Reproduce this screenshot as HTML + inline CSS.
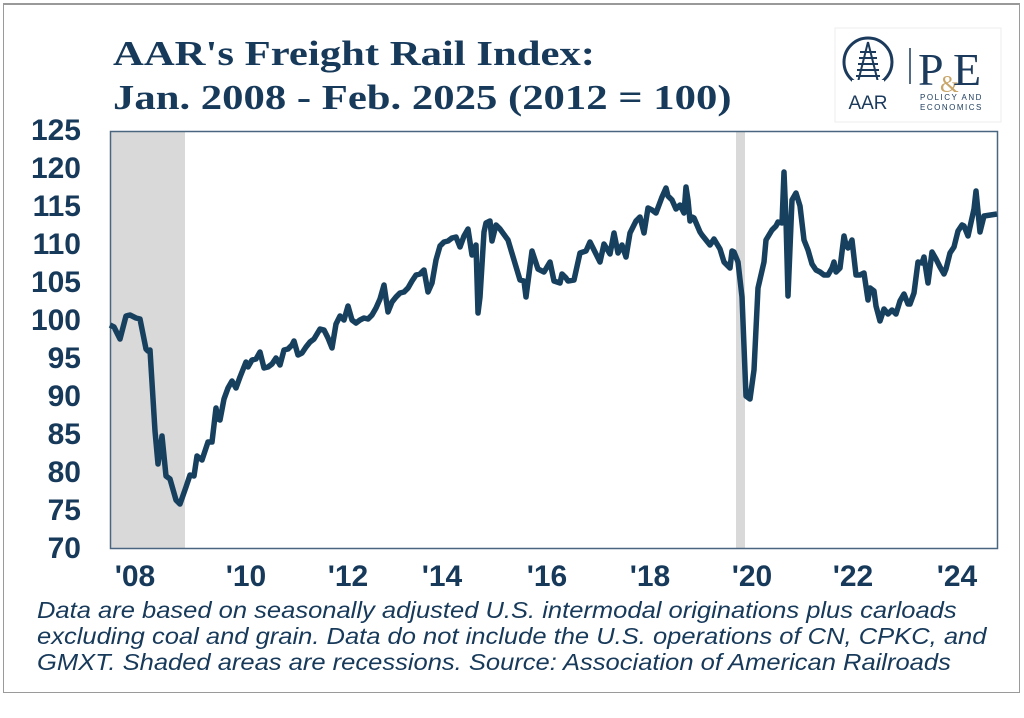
<!DOCTYPE html>
<html><head><meta charset="utf-8"><style>
body{margin:0;background:#fff;width:1024px;height:718px;overflow:hidden;position:relative;font-family:"Liberation Sans",sans-serif;color:#17395a}
.frame{position:absolute;left:3px;top:3px;width:1017px;height:690px;border:1px solid #9a9a9a;border-top:2px solid #999;box-sizing:border-box}
.title{position:absolute;left:113px;top:32px;font-family:"Liberation Serif",serif;font-weight:bold;font-size:35px;line-height:44px;color:#17395a;white-space:nowrap;transform:scaleX(1.22);transform-origin:left top}
.yl{position:absolute;right:943px;font-weight:bold;font-size:30px;line-height:30px}
.xl{position:absolute;top:560px;font-weight:bold;font-size:30px;width:70px;text-align:center;margin-left:-35px}
.note{position:absolute;left:37px;top:597px;font-style:italic;font-size:23px;line-height:26px;color:#17395a;white-space:nowrap;transform:scaleX(1.11);transform-origin:left top}
</style></head><body>
<div class="frame"></div>
<div class="title">AAR's Freight Rail Index:<br>Jan. 2008 - Feb. 2025 (2012 = 100)</div>
<svg style="position:absolute;left:0;top:0" width="1024" height="718">
<rect x="835" y="28" width="166" height="94" fill="#fff" stroke="#eee"/>
<circle cx="868" cy="62" r="24" fill="none" stroke="#1b3a5c" stroke-width="3"/>
<path d="M868 42 L858 82 M868 42 L878 82 M860 52h16M859 58h18M858 64h20M857 70h22M856 76h24" stroke="#1b3a5c" stroke-width="2" fill="none"/>
<rect x="852" y="80" width="32" height="8" fill="#fff"/>
<text x="868" y="109" font-family="Liberation Sans" font-size="19" fill="#1b3a5c" text-anchor="middle">AAR</text>
<line x1="910" y1="48" x2="910" y2="84" stroke="#1b3a5c" stroke-width="1.5"/>
<text x="918" y="85" font-family="Liberation Serif" font-size="46" fill="#1b3a5c">P</text>
<text x="940" y="92" font-family="Liberation Serif" font-size="24" fill="#c8a66a">&amp;</text>
<text x="953" y="85" font-family="Liberation Serif" font-size="46" fill="#1b3a5c">E</text>
<text x="920" y="100" font-family="Liberation Sans" font-size="8" letter-spacing="1.5" fill="#1b3a5c">POLICY AND</text>
<text x="920" y="110" font-family="Liberation Sans" font-size="8" letter-spacing="1.5" fill="#1b3a5c">ECONOMICS</text>
<rect x="111" y="131" width="74" height="418" fill="#d9d9d9"/>
<rect x="736" y="131" width="9" height="418" fill="#d9d9d9"/>
<rect x="110.5" y="131.5" width="887" height="417" fill="none" stroke="#4a6580" stroke-width="1.5"/>
<polyline fill="none" stroke="#17405f" stroke-width="5.5" stroke-linejoin="round" points="110,325 114,327 120,339 126,316 130,315 136,318 140,319 146,349 148,351 150,350 155,431 158,464 162,436 166,476 170,479 176,500 180,504 186,487 190,475 194,476 197,456 202,460 208,442 212,442 216,408 218,419 220,420 224,399 228,388 232,381 236,388 240,377 246,362 248,367 252,360 256,359 260,352 264,368 268,367 272,364 276,358 280,365 284,350 288,349 292,345 294,341 298,355 302,353 306,347 310,342 314,339 320,329 324,330 328,338 332,348 336,324 340,316 344,320 348,306 352,320 356,323 360,320 364,318 368,319 372,315 376,308 380,299 384,285 388,312 392,302 396,297 400,293 404,292 408,288 412,281 416,275 420,274 424,270 428,292 432,283 436,260 440,246 444,242 448,241 452,238 456,237 460,247 464,236 468,229 472,255 474,254 476,245 478,313 480,297 484,232 486,223 490,221 492,241 496,225 500,229 508,240 520,280 524,281 526,297 532,251 538,269 544,272 550,262 554,281 560,283 562,274 566,278 568,281 574,280 580,253 586,251 590,242 594,250 600,262 604,244 610,254 614,233 618,253 622,245 626,257 630,233 636,221 640,217 644,233 648,208 652,210 656,213 662,197 666,188 668,196 672,200 676,209 680,205 684,213 686,187 688,200 690,221 692,217 694,218 700,232 702,235 706,240 710,245 714,239 720,249 724,262 728,266 730,268 732,251 734,252 738,262 742,297 746,396 750,399 754,370 758,288 764,262 766,240 772,230 776,226 778,222 782,223 784,172 786,220 788,296 792,200 796,193 800,206 804,240 808,250 812,264 816,270 820,272 824,275 828,275 832,268 834,262 836,272 840,268 844,236 846,245 848,248 852,240 856,275 860,275 864,273 868,300 870,288 874,291 876,306 880,321 884,309 888,314 892,310 896,314 900,301 904,294 908,304 910,304 914,293 918,262 922,263 924,257 928,283 932,252 936,259 940,267 944,274 946,269 950,253 954,247 958,231 962,225 964,226 968,236 974,209 976,191 980,232 984,216 997,214"/>
</svg>
<div class="yl" style="top:116px">125</div>
<div class="yl" style="top:154px">120</div>
<div class="yl" style="top:192px">115</div>
<div class="yl" style="top:230px">110</div>
<div class="yl" style="top:268px">105</div>
<div class="yl" style="top:306px">100</div>
<div class="yl" style="top:344px">95</div>
<div class="yl" style="top:382px">90</div>
<div class="yl" style="top:420px">85</div>
<div class="yl" style="top:458px">80</div>
<div class="yl" style="top:496px">75</div>
<div class="yl" style="top:534px">70</div>
<div class="xl" style="left:135px">'08</div>
<div class="xl" style="left:246px">'10</div>
<div class="xl" style="left:348px">'12</div>
<div class="xl" style="left:442px">'14</div>
<div class="xl" style="left:547px">'16</div>
<div class="xl" style="left:650px">'18</div>
<div class="xl" style="left:752px">'20</div>
<div class="xl" style="left:853px">'22</div>
<div class="xl" style="left:957px">'24</div>
<div class="note">Data are based on seasonally adjusted U.S. intermodal originations plus carloads<br>excluding coal and grain. Data do not include the U.S. operations of CN, CPKC, and<br>GMXT. Shaded areas are recessions. Source: Association of American Railroads</div>
</body></html>
